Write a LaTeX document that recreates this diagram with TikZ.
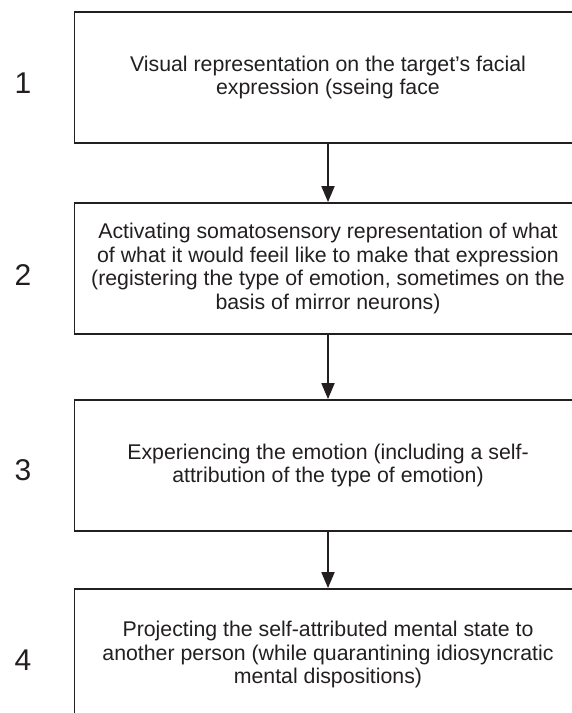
\documentclass[tikz,border=0pt]{standalone}
\usepackage{fontspec}
\setmainfont{Liberation Sans}
\usepackage{tikz}
\usetikzlibrary{arrows.meta}
\usepackage{xcolor}
\definecolor{finkk}{HTML}{231F20}
\tikzset{
  stagebox/.style = {draw=finkk, line width=1.8pt, rectangle, minimum width=507pt,
                     minimum height=131pt, align=center, inner sep=0pt,
                     font=\fontsize{21.3}{23.4}\selectfont, text=finkk},
  stagenum/.style = {font=\fontsize{30}{30}\selectfont, text=finkk},
  flow/.style     = {-{Triangle[length=16pt,width=13pt]}, line width=1.8pt, draw=finkk},
}
\begin{document}
\begin{tikzpicture}[x=1pt, y=-1pt]
\useasboundingbox (0,0) rectangle (572,713);
\clip (0,0) rectangle (572,713);
% ---------------- the four stages ----------------
\node[stagebox] (box1) at (328,77.5)
  {\rule{0pt}{12pt}Visual representation on the target’s facial\\expression (sseing face};
\node[stagebox] (box2) at (328,268.5)
  {Activating somatosensory representation of what\\of what it would feeil like to make that expression\\(registering the type of emotion, sometimes on the\\basis of mirror neurons)};
\node[stagebox] (box3) at (328,465.5)
  {Experiencing the emotion (including a self-\\attribution of the type of emotion)};
\node[stagebox] (box4) at (328,654.5)
  {Projecting the self-attributed mental state to\\another person (while quarantining idiosyncratic\\mental dispositions)};
% ---------------- stage numbers ----------------
\foreach \n/\y in {1/83,2/275,3/470,4/660}{
  \node[stagenum] (num\n) at (23,\y) {\n};}
% ---------------- arrows between stages ----------------
\foreach \a/\b in {box1/box2,box2/box3,box3/box4}{
  \draw[flow] (\a) -- (\b);}
\end{tikzpicture}
\end{document}
